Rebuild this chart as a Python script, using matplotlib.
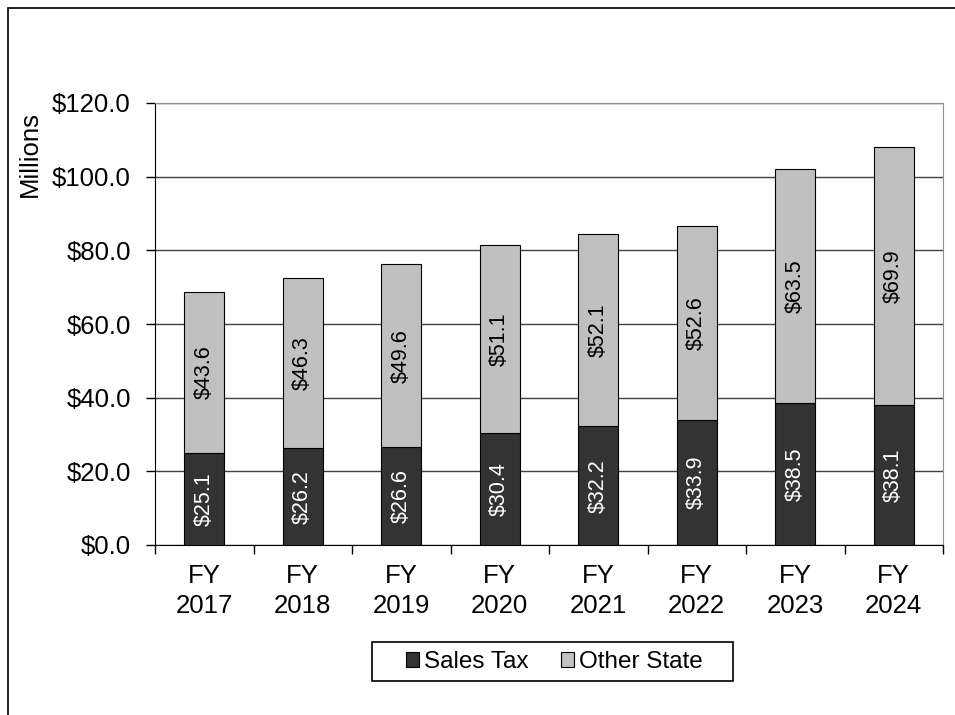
import matplotlib.pyplot as plt
from matplotlib.patches import Rectangle
import numpy as np

plt.rcParams['font.family'] = ['Liberation Sans', 'DejaVu Sans']

years = ["FY\n2017", "FY\n2018", "FY\n2019", "FY\n2020", "FY\n2021", "FY\n2022", "FY\n2023", "FY\n2024"]
sales_tax = [25.1, 26.2, 26.6, 30.4, 32.2, 33.9, 38.5, 38.1]
other_state = [43.6, 46.3, 49.6, 51.1, 52.1, 52.6, 63.5, 69.9]

W, H = 955, 715
fig = plt.figure(figsize=(W / 100, H / 100), dpi=100)
# outer frame (cut off at right/bottom like the original)
fig.patches.append(Rectangle((8 / W, -0.05), 1.1, 1 - 8 / H + 0.05, transform=fig.transFigure,
                             fill=False, edgecolor='black', linewidth=1.2))

ax = fig.add_axes([155 / W, 1 - 545 / H, (943 - 155) / W, (545 - 103) / H])

x = np.arange(len(years))
b1 = ax.bar(x, sales_tax, width=0.405, color='#333333', edgecolor='black', linewidth=0.8,
            label='Sales Tax', zorder=3)
b2 = ax.bar(x, other_state, width=0.405, bottom=sales_tax, color='#c0c0c0', edgecolor='black',
            linewidth=0.8, label='Other State', zorder=3)

for i in range(len(years)):
    ax.text(x[i], sales_tax[i] / 2, f"${sales_tax[i]:.1f}", rotation=90, ha='center', va='center',
            color='white', fontsize=15.5, zorder=4)
    ax.text(x[i], sales_tax[i] + other_state[i] / 2, f"${other_state[i]:.1f}", rotation=90,
            ha='center', va='center', color='black', fontsize=15.5, zorder=4)

ax.set_xlim(-0.5, len(years) - 0.5)
ax.set_ylim(0, 120)
ax.set_yticks(np.arange(0, 121, 20))
ax.set_yticklabels([f"${v:.1f}" for v in np.arange(0, 121, 20)], fontsize=18.5)
ax.yaxis.grid(True, color='#404040', linewidth=1, zorder=0)

ax.set_xticks(x)
ax.set_xticklabels(years, fontsize=18.5, linespacing=1.33)
ax.tick_params(axis='x', length=0, pad=13.5)
ax.tick_params(axis='y', length=6.5, width=1, direction='out', pad=11)
# category boundary ticks
ax.set_xticks(np.arange(-0.5, len(years), 1), minor=True)
ax.tick_params(axis='x', which='minor', length=6.5, width=1, direction='out')

for s in ['top', 'right']:
    ax.spines[s].set_color('#909090')
for s in ['left', 'bottom']:
    ax.spines[s].set_color('black')

fig.text(30 / W, 1 - 154 / H, "Millions", rotation=90, ha='center', va='center', fontsize=18.5)

# legend box drawn separately to match its padding
fig.patches.append(Rectangle((372 / W, 1 - 681 / H), (733 - 372) / W, (681 - 642) / H,
                             transform=fig.transFigure, fill=False, edgecolor='black', linewidth=1.2))
leg = fig.legend(handles=[b1, b2], loc='center left', bbox_to_anchor=(406 / W, 1 - 662 / H), ncol=2,
                 fontsize=17.5, frameon=False, handlelength=0.53, handleheight=0.53,
                 handletextpad=0.2, columnspacing=1.35, borderpad=0, borderaxespad=0)

fig.savefig("out.png", dpi=100)
